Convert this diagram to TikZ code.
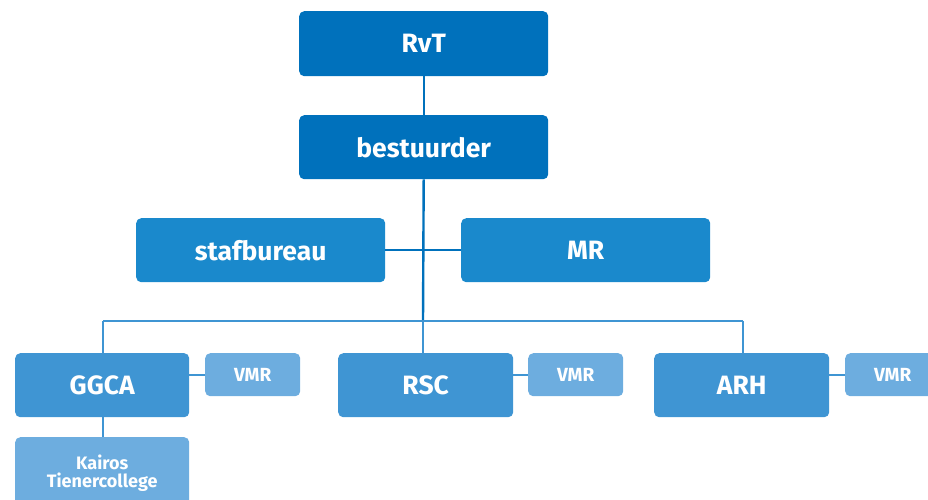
\documentclass[tikz,border=0pt]{standalone}
\usepackage{fontspec}
\setmainfont{Fira Sans}
\definecolor{cdark}{HTML}{0071BC}
\definecolor{cmid}{HTML}{1A89CC}
\definecolor{clow}{HTML}{3F95D3}
\definecolor{clight}{HTML}{6DADDF}
\newcommand{\lowr}[1]{\raisebox{-2.5pt}{#1}}
\begin{document}
\begin{tikzpicture}[x=1pt,y=-1pt,
  box/.style={fill=#1,rounded corners=5pt,text=white,font=\bfseries\fontsize{26.5}{30}\selectfont,anchor=north west,inner sep=0pt,align=center},
  small/.style={fill=clight,rounded corners=5pt,text=white,font=\bfseries\fontsize{19}{22}\selectfont,anchor=north west,inner sep=0pt,align=center},
  con/.style={line width=2.4pt,draw=#1}]
\useasboundingbox (0,0) rectangle (928,499);
\node[box=cdark,minimum width=249pt,minimum height=65pt] (rvt) at (299,11) {\lowr{RvT}};
\node[box=cdark,minimum width=249pt,minimum height=64pt] (best) at (299,115) {\lowr{bestuurder}};
\node[box=cmid,minimum width=249pt,minimum height=64pt] (staf) at (136,218) {\lowr{stafbureau}};
\node[box=cmid,minimum width=249pt,minimum height=64pt] (mr) at (461,218) {\lowr{MR}};
\node[box=clow,minimum width=174pt,minimum height=64pt] (ggca) at (15,353) {\lowr{GGCA}};
\node[box=clow,minimum width=175pt,minimum height=64pt] (rsc) at (338,353) {\lowr{RSC}};
\node[box=clow,minimum width=175pt,minimum height=64pt] (arh) at (654,353) {\lowr{ARH}};
\node[small,minimum width=95pt,minimum height=43pt] (v1) at (205,353) {\lowr{VMR}};
\node[small,minimum width=95pt,minimum height=43pt] (v2) at (528,353) {\lowr{VMR}};
\node[small,minimum width=95pt,minimum height=43pt] (v3) at (845,353) {\lowr{VMR}};
\node[small,minimum width=174pt,minimum height=72pt,font=\bfseries\fontsize{18}{21}\selectfont] (kai) at (15,437) {\raisebox{-8pt}{\shortstack{Kairos\\[1pt]Tienercollege}}};
\coordinate (bus) at (423,321);
\coordinate (busL) at (103,321);
\coordinate (busR) at (743,321);
\draw[con=cdark] (rvt.south) -- (best.north);
\draw[con=cdark] (best.south) -- (bus);
\draw[con=cdark] (staf.east) -- (mr.west);
\draw[con=clow] (busL) -- (busR);
\draw[con=clow] (busL) -- (ggca.north -| busL);
\draw[con=clow] (bus) -- (rsc.north -| bus);
\draw[con=clow] (busR) -- (arh.north -| busR);
\draw[con=clow] (ggca.east |- v1.west) -- (v1.west);
\draw[con=clow] (rsc.east |- v2.west) -- (v2.west);
\draw[con=clow] (arh.east |- v3.west) -- (v3.west);
\draw[con=clow] (ggca.south -| busL) -- (kai.north -| busL);
\end{tikzpicture}
\end{document}
